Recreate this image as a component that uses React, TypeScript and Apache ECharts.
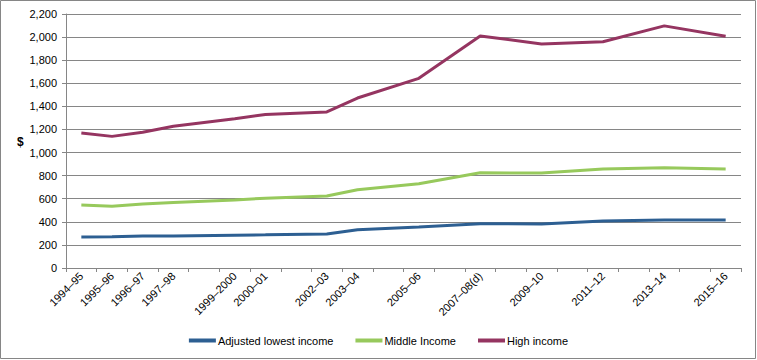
import React, { useEffect, useRef } from "react";
import * as echarts from "echarts";

const categories = [
  "1994–95", "1995–96", "1996–97", "1997–98", "1998–99", "1999–2000", "2000–01",
  "2001–02", "2002–03", "2003–04", "2004–05", "2005–06", "2006–07", "2007–08(d)",
  "2008–09", "2009–10", "2010–11", "2011–12", "2012–13", "2013–14", "2014–15", "2015–16",
];

const lowestIncome = [268, 270, 277, 278, null, 284, 287, null, 294, 332, null, 355, null, 384, null, 381, null, 407, null, 415, null, 415];
const middleIncome = [545, 535, 554, 568, null, 589, 605, null, 623, 678, null, 730, null, 825, null, 822, null, 857, null, 868, null, 857];
const highIncome = [1170, 1140, 1175, 1228, null, 1292, 1330, null, 1352, 1472, null, 1643, null, 2010, null, 1940, null, 1960, null, 2097, null, 2007];

const yTicks = { min: 0, max: 2200, interval: 200 };

const FONT = "'Liberation Sans', Arial, sans-serif";

export default function App() {
  const ref = useRef<HTMLDivElement>(null);
  useEffect(() => {
    document.body.style.margin = "0";
    const chart = echarts.init(ref.current!, null, { renderer: "svg" });
    const lineSeries = (name: string, data: (number | null)[], color: string) => ({
      name,
      type: "line",
      data,
      connectNulls: true,
      symbol: "none",
      lineStyle: { color, width: 3 },
      itemStyle: { color },
    });
    chart.setOption({
      animation: false,
      textStyle: { fontFamily: FONT },
      grid: { left: 66, right: 16, top: 14, bottom: 92 },
      xAxis: {
        type: "category",
        data: categories,
        boundaryGap: true,
        axisLine: { lineStyle: { color: "#868686", width: 1 } },
        axisTick: { show: true, interval: 0, length: 4, lineStyle: { color: "#868686" } },
        axisLabel: {
          rotate: 45,
          interval: (i: number) => highIncome[i] !== null,
          fontSize: 11,
          color: "#000",
          fontFamily: FONT,
          margin: 6,
        },
      },
      yAxis: {
        type: "value",
        min: yTicks.min,
        max: yTicks.max,
        interval: yTicks.interval,
        axisLine: { show: true, lineStyle: { color: "#868686", width: 1 } },
        axisTick: { show: true, length: 4, lineStyle: { color: "#868686" } },
        axisLabel: {
          fontSize: 11,
          color: "#000",
          fontFamily: FONT,
          margin: 9,
          formatter: (v: number) => v.toLocaleString("en-US"),
        },
        splitLine: { lineStyle: { color: "#868686", width: 1 } },
      },
      legend: {
        bottom: 9,
        left: "center",
        icon: "rect",
        itemWidth: 27,
        itemHeight: 4,
        itemGap: 22,
        textStyle: { fontSize: 11, color: "#000", fontFamily: FONT, padding: [0, 0, 0, -3] },
        data: ["Adjusted lowest income", "Middle Income", "High income"],
      },
      graphic: [
        {
          type: "rect",
          shape: { x: 0.5, y: 0.5, width: 755, height: 358 },
          style: { fill: "none", stroke: "#868686", lineWidth: 1 },
          silent: true,
        },
        {
          type: "text",
          x: 17,
          y: 136,
          style: { text: "$", font: `bold 12px ${FONT}`, fill: "#000" },
        },
      ],
      series: [
        lineSeries("Adjusted lowest income", lowestIncome, "#2D5F92"),
        lineSeries("Middle Income", middleIncome, "#97C95C"),
        lineSeries("High income", highIncome, "#953561"),
      ],
    });
    return () => chart.dispose();
  }, []);
  return <div ref={ref} style={{ width: 757, height: 360 }} />;
}
